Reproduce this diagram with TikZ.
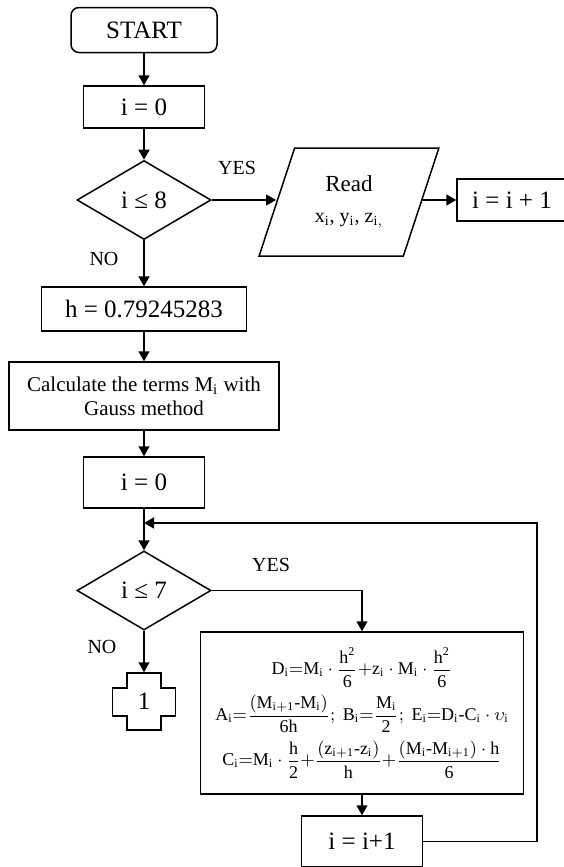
\documentclass[tikz,border=0pt]{standalone}
\usepackage{fontspec}
\usepackage{amsmath}
\setmainfont{Liberation Serif}
\usetikzlibrary{shapes.geometric, arrows.meta, positioning, calc}

\begin{document}
\begin{tikzpicture}[x=0.5pt, y=-0.5pt, line width=0.75pt]
    \tikzstyle{terminal} = [rectangle, rounded corners=4pt, draw=black, minimum width=73pt, minimum height=22.5pt, font=\fontsize{12.5}{15}\selectfont]
    \tikzstyle{process} = [rectangle, draw=black, inner sep=2pt, font=\fontsize{12.5}{15}\selectfont]
    \tikzstyle{decision} = [diamond, draw=black, minimum width=67pt, minimum height=39.5pt, inner sep=0pt, font=\fontsize{12.5}{15}\selectfont]
    \tikzstyle{io} = [trapezium, trapezium left angle=68, trapezium right angle=112, trapezium stretches=true, draw=black, minimum width=90pt, minimum height=54pt, align=center, font=\fontsize{11.5}{13.5}\selectfont]
    \tikzstyle{answer} = [font=\fontsize{10}{12}\selectfont]
    \tikzstyle{arrow} = [->, >={Triangle[length=5pt, width=5.5pt]}]
    \useasboundingbox (0,0) rectangle (563,867);

    \node[terminal] (start) at (144,30) {START};
    \node[process, minimum width=60.5pt, minimum height=21pt] (init1) at (144,107) {i = 0};
    \node[decision] (cond1) at (144,200) {i ≤ 8};
    \node[io] (read) at (349,202) {Read\\[2pt]{\fontsize{10}{12}\selectfont x$_\mathrm{i}$, y$_\mathrm{i}$, z$_\mathrm{i,}$}};
    \node[process, minimum width=55pt, minimum height=21pt] (incr1) at (512,200) {i = i + 1};
    \node[process, minimum width=102.5pt, minimum height=22pt] (hval) at (144,309) {h = 0.79245283};
    \node[process, minimum width=135pt, minimum height=34pt, align=center, font=\fontsize{10.5}{12}\selectfont] (gauss) at (144,396) {Calculate the terms M$_\mathrm{i}$ with\\Gauss method};
    \node[process, minimum width=60.5pt, minimum height=25.5pt] (init2) at (144,482.5) {i = 0};
    \node[decision] (cond2) at (144,590.5) {i ≤ 7};
    \node[minimum width=17pt, minimum height=28.5pt, inner sep=0pt, font=\fontsize{12.5}{15}\selectfont] (conn) at (144,701.5) {1};
    \node[process, minimum width=161.5pt, minimum height=81pt, align=center, font=\fontsize{9}{11}\selectfont] (coeffs) at (362,713) {%
        $\mathrm{D_i{=}M_i\cdot\dfrac{h^2}{6}{+}z_i\cdot M_i\cdot\dfrac{h^2}{6}}$\\[3pt]
        $\mathrm{A_i{=}\dfrac{\left(M_{i+1}\text{-}M_i\right)}{6h};\ B_i{=}\dfrac{M_i}{2};\ E_i{=}D_i\text{-}C_i\cdot\upsilon_i}$\\[3pt]
        $\mathrm{C_i{=}M_i\cdot\dfrac{h}{2}{+}\dfrac{\left(z_{i+1}\text{-}z_i\right)}{h}{+}\dfrac{\left(M_i\text{-}M_{i+1}\right)\cdot h}{6}}$};
    \node[process, minimum width=60.5pt, minimum height=25.5pt] (incr2) at (362,841.5) {i = i+1};
    \coordinate (join) at (144,523);
    \coordinate (corner) at (537,523);

    % cross shaped connector
    \draw ($(conn)+(-17,-28.5)$) -- ++(34,0) -- ++(0,15) -- ++(14.5,0) -- ++(0,28) -- ++(-14.5,0) -- ++(0,14)
        -- ++(-34,0) -- ++(0,-14) -- ++(-14.5,0) -- ++(0,-28) -- ++(14.5,0) -- cycle;

    \node[answer] (yes1) at (237,168) {YES};
    \node[answer] (no1) at (104,259) {NO};
    \node[answer] (yes2) at (271,565) {YES};
    \node[answer] (no2) at (102,647) {NO};

    \draw[arrow] (start) -- (init1);
    \draw[arrow] (init1) -- (cond1);
    \draw[arrow] (cond1) -- (cond1 -| read.west);
    \draw[arrow] (read.east |- incr1) -- (incr1);
    \draw[arrow] (cond1) -- (hval);
    \draw[arrow] (hval) -- (gauss);
    \draw[arrow] (gauss) -- (init2);
    \draw[arrow] (init2) -- (cond2);
    \draw[arrow] (cond2) -- (conn);
    \draw[arrow] (cond2) -| (coeffs);
    \draw[arrow] (coeffs) -- (incr2);
    \draw[arrow] (incr2) -| (corner) -- (join);
\end{tikzpicture}
\end{document}
